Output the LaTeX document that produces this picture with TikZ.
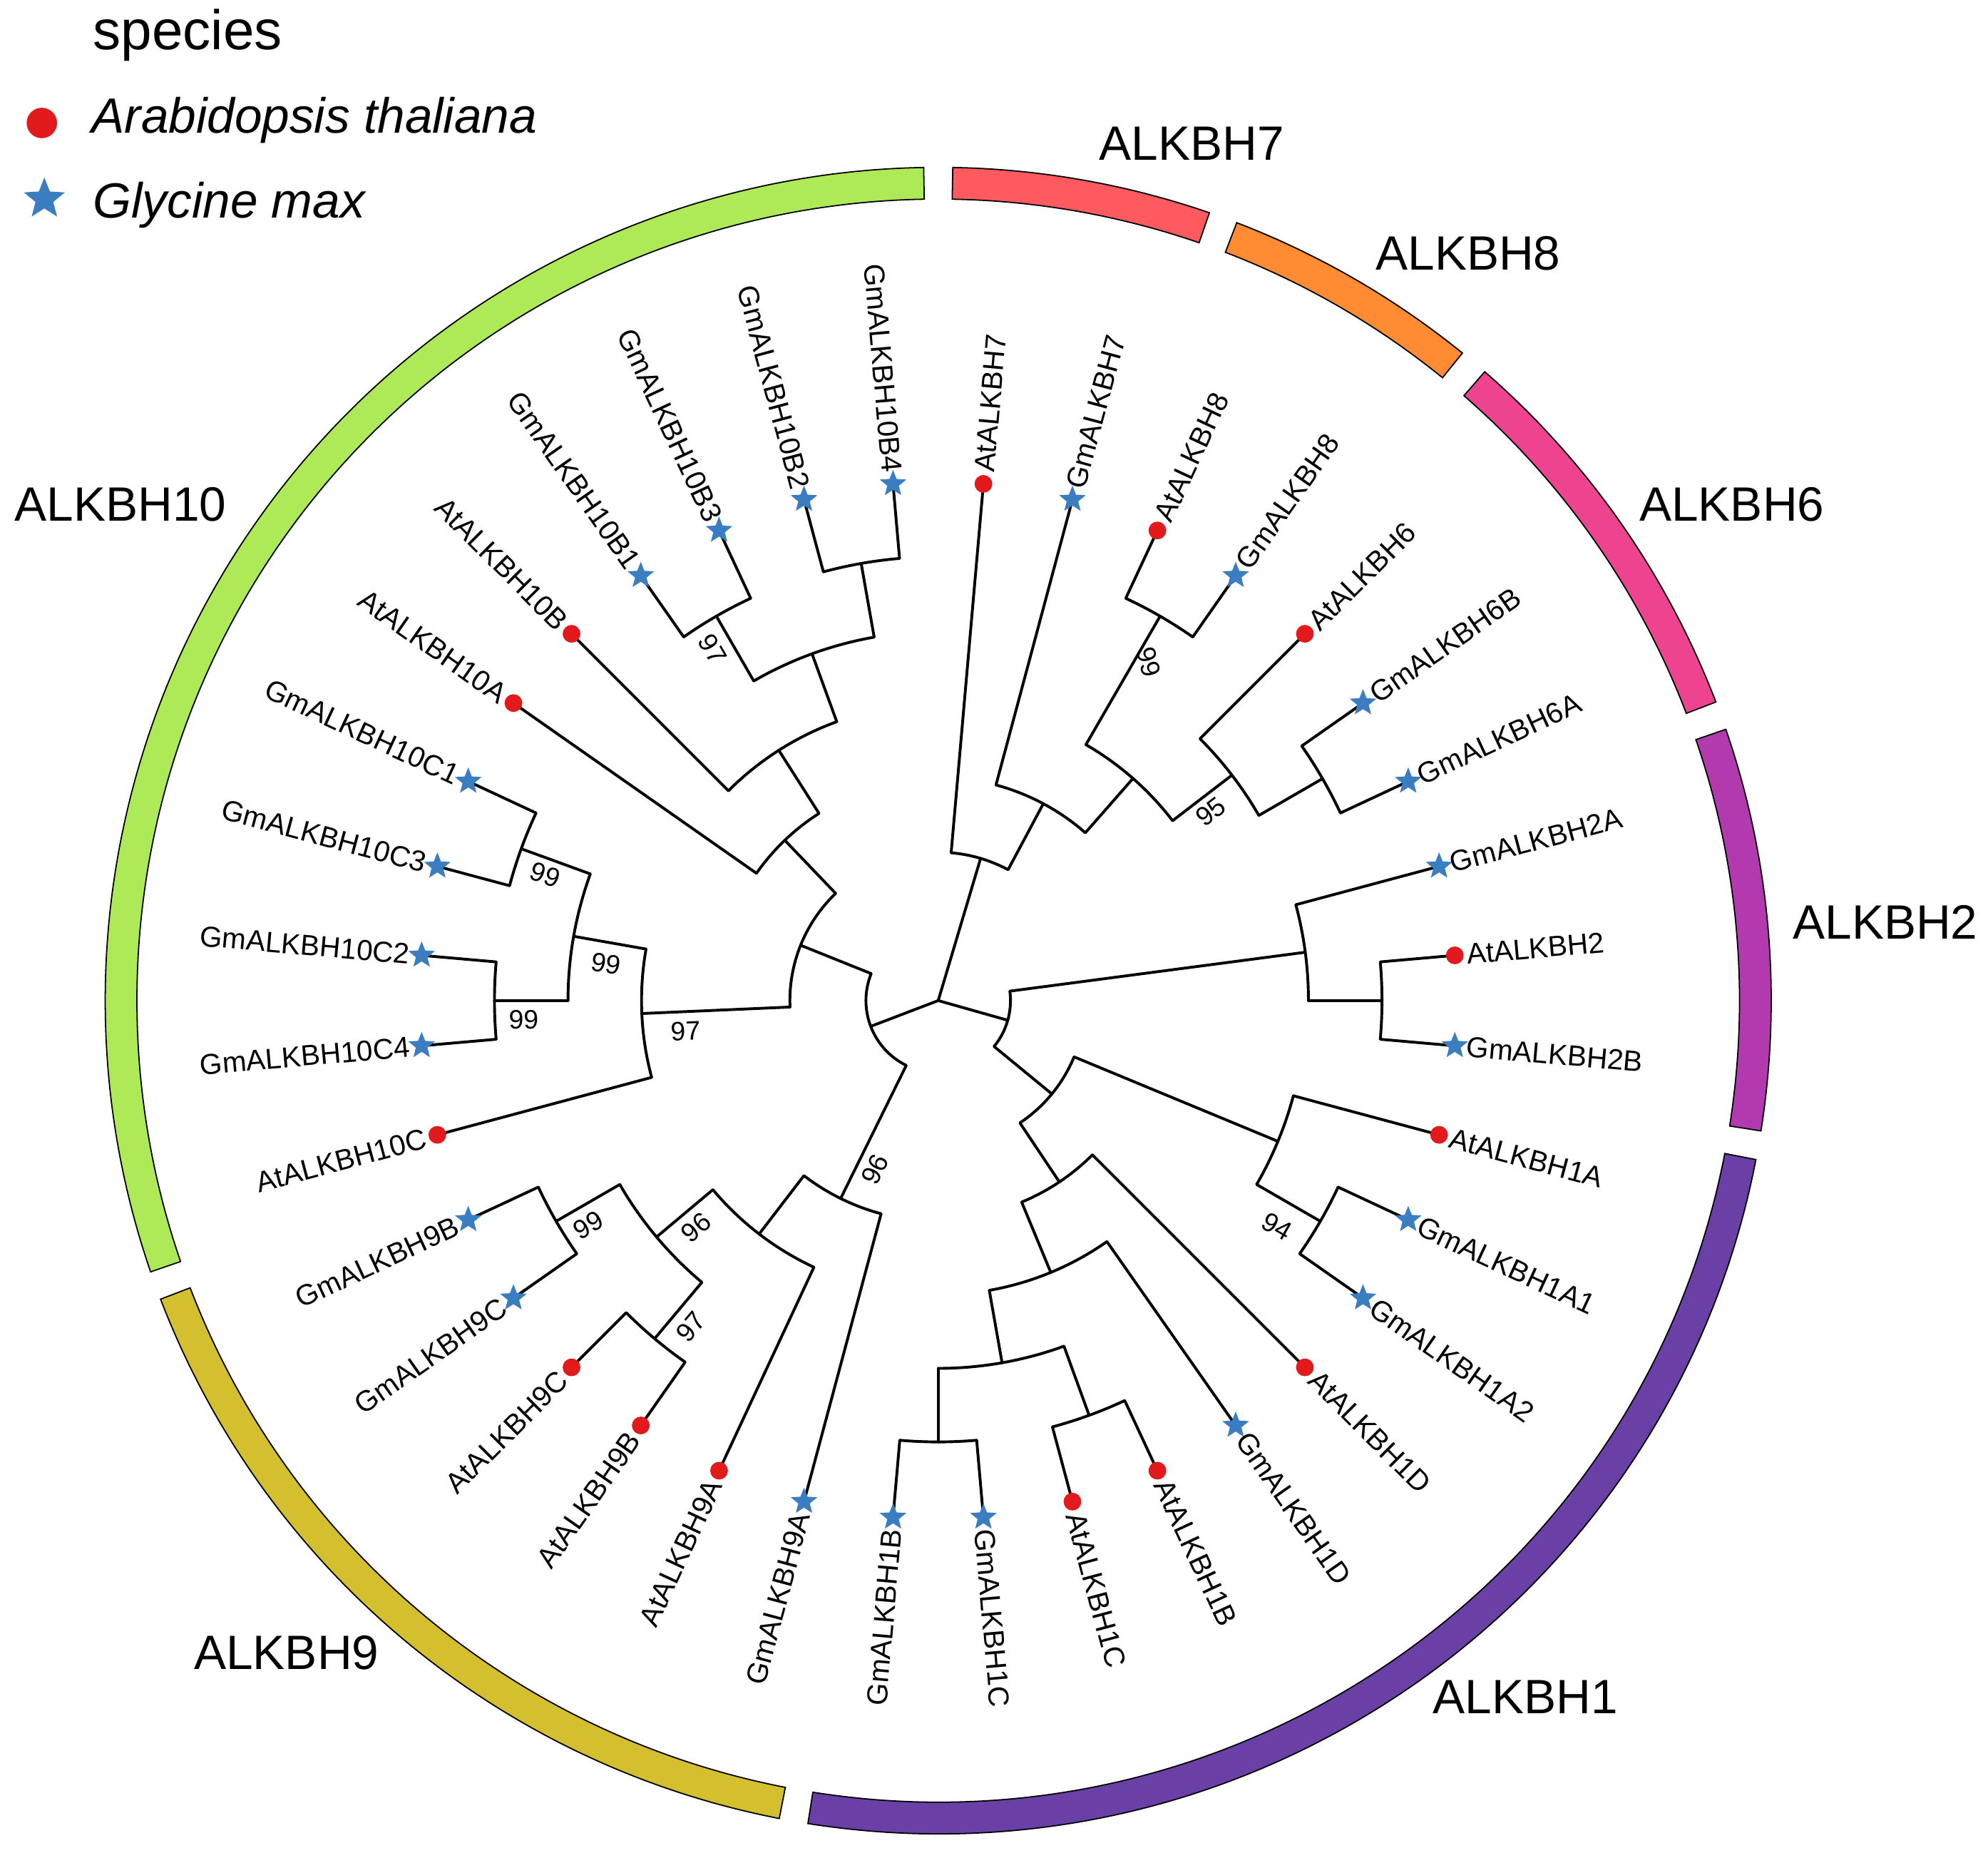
\documentclass[tikz,border=0pt]{standalone}
\usepackage{fontspec}
\setmainfont{Liberation Sans}
\usetikzlibrary{shapes.geometric}
\definecolor{atred}{HTML}{E31A1C}
\definecolor{gmblue}{HTML}{3A7DC0}
\definecolor{cA10}{HTML}{AEEA58}
\definecolor{cA9}{HTML}{D4C02F}
\definecolor{cA1}{HTML}{6A3FA6}
\definecolor{cA2}{HTML}{B23AAE}
\definecolor{cA6}{HTML}{EE4490}
\definecolor{cA8}{HTML}{FF8C33}
\definecolor{cA7}{HTML}{FF5A5F}
\newcommand\Br[3]{\draw[br] (#2:#1) -- (#2:#3);}
\newcommand\Ar[3]{\draw[br] (#2:#1) arc[start angle=#2, end angle=#3, radius=#1*0.5pt];}
\newcommand\Ring[3]{\filldraw[fill=#3, draw=black, line width=0.5pt] (#1:632) arc[start angle=#1, end angle=#2, radius=316pt] -- (#2:657) arc[start angle=#2, end angle=#1, radius=328.5pt] -- cycle;}
\begin{document}
\begin{tikzpicture}[x=0.5pt,y=0.5pt,
  br/.style={line width=1.1pt, line cap=round, line join=round},
  spat/.style={circle, fill=atred, inner sep=0pt, minimum size=7pt},
  spgm/.style={star, star points=5, star point ratio=2.3, fill=gmblue, inner sep=0pt, minimum size=11pt},
  leaf/.style={font=\fontsize{11.4}{13}\selectfont, inner sep=0pt},
  bs/.style={font=\fontsize{10.5}{12}\selectfont, inner sep=0pt},
  clade/.style={font=\fontsize{19}{22}\selectfont, inner sep=0pt}]
\useasboundingbox (0,0) rectangle (1568,1465);
\begin{scope}[shift={(740,676)}]
% rings
\Ring{91}{199}{cA10}
\Ring{201}{259}{cA9}
\Ring{261}{349}{cA1}
\Ring{-9}{19}{cA2}
\Ring{21}{49}{cA6}
\Ring{51}{69}{cA8}
\Ring{71}{89}{cA7}
% root
\Br{0}{73.4}{117} \Br{0}{200.9}{57} \Br{0}{-15.8}{57}
% A clade
\Ar{117}{85}{61.9} \Br{117}{85}{409} \Br{117}{61.9}{176}
\Ar{176}{75}{48.75} \Br{176}{75}{409} \Br{176}{48.75}{233}
\Ar{233}{60}{37.5} \Br{233}{60}{350} \Br{233}{37.5}{292}
\Ar{350}{65}{55} \Br{350}{65}{409} \Br{350}{55}{409}
\Ar{292}{45}{30} \Br{292}{45}{409} \Br{292}{30}{350}
\Ar{350}{35}{25} \Br{350}{35}{409} \Br{350}{25}{409}
% Cn
\Ar{57}{7.5}{-39.4} \Br{57}{7.5}{292} \Br{57}{-39.4}{116}
\Ar{292}{15}{0} \Br{292}{15}{409} \Br{292}{0}{350}
\Ar{350}{5}{-5} \Br{350}{5}{409} \Br{350}{-5}{409}
\Ar{116}{-22.5}{-56.25} \Br{116}{-22.5}{290} \Br{116}{-56.25}{172}
\Ar{290}{-15}{-30} \Br{290}{-15}{409} \Br{290}{-30}{348}
\Ar{348}{-25}{-35} \Br{348}{-25}{409} \Br{348}{-35}{409}
\Ar{172}{-45}{-67.5} \Br{172}{-45}{409} \Br{172}{-67.5}{232}
\Ar{232}{-55}{-80} \Br{232}{-55}{409} \Br{232}{-80}{290}
\Ar{290}{-70}{-90} \Br{290}{-70}{348} \Br{290}{-90}{348}
\Ar{348}{-65}{-75} \Br{348}{-65}{409} \Br{348}{-75}{409}
\Ar{348}{-85}{-95} \Br{348}{-85}{409} \Br{348}{-95}{409}
% X2
\Ar{57}{158.1}{243.75} \Br{57}{158.1}{117} \Br{57}{243.75}{174}
\Ar{117}{133.75}{182.5} \Br{117}{133.75}{175} \Br{117}{182.5}{234}
\Ar{175}{145}{122.5} \Br{175}{145}{409} \Br{175}{122.5}{234}
\Ar{234}{135}{110} \Br{234}{135}{409} \Br{234}{110}{291}
\Ar{291}{120}{100} \Br{291}{120}{350} \Br{291}{100}{350}
\Ar{350}{125}{115} \Br{350}{125}{409} \Br{350}{115}{409}
\Ar{350}{105}{95} \Br{350}{105}{409} \Br{350}{95}{409}
\Ar{234}{170}{195} \Br{234}{170}{292} \Br{234}{195}{409}
\Ar{292}{160}{180} \Br{292}{160}{350} \Br{292}{180}{350}
\Ar{350}{155}{165} \Br{350}{155}{409} \Br{350}{165}{409}
\Ar{350}{175}{185} \Br{350}{175}{409} \Br{350}{185}{409}
\Ar{174}{232.5}{255} \Br{174}{232.5}{232} \Br{174}{255}{409}
\Ar{232}{220}{245} \Br{232}{220}{290} \Br{232}{245}{409}
\Ar{290}{210}{230} \Br{290}{210}{348} \Br{290}{230}{348}
\Ar{348}{205}{215} \Br{348}{205}{409} \Br{348}{215}{409}
\Ar{348}{225}{235} \Br{348}{225}{409} \Br{348}{235}{409}
% leaves right side
\foreach \a/\n/\s in {85/AtALKBH7/at,75/GmALKBH7/gm,65/AtALKBH8/at,55/GmALKBH8/gm,45/AtALKBH6/at,35/GmALKBH6B/gm,25/GmALKBH6A/gm,15/GmALKBH2A/gm,5/AtALKBH2/at,-5/GmALKBH2B/gm,-15/AtALKBH1A/at,-25/GmALKBH1A1/gm,-35/GmALKBH1A2/gm,-45/AtALKBH1D/at,-55/GmALKBH1D/gm,-65/AtALKBH1B/at,-75/AtALKBH1C/at,-85/GmALKBH1C/gm}{
  \node[sp\s] (m\n) at (\a:409) {};
  \node[leaf, anchor=west, rotate=\a] (t\n) at (\a:418) {\n};
}
% leaves left side
\foreach \a/\n/\s in {95/GmALKBH10B4/gm,105/GmALKBH10B2/gm,115/GmALKBH10B3/gm,125/GmALKBH10B1/gm,135/AtALKBH10B/at,145/AtALKBH10A/at,155/GmALKBH10C1/gm,165/GmALKBH10C3/gm,175/GmALKBH10C2/gm,185/GmALKBH10C4/gm,195/AtALKBH10C/at,205/GmALKBH9B/gm,215/GmALKBH9C/gm,225/AtALKBH9C/at,235/AtALKBH9B/at,245/AtALKBH9A/at,255/GmALKBH9A/gm,265/GmALKBH1B/gm}{
  \node[sp\s] (m\n) at (\a:409) {};
  \node[leaf, anchor=east, rotate=\a-180] (t\n) at (\a:418) {\n};
}
\end{scope}
% bootstrap
\node[bs, rotate=-60] (b1) at (562,953) {97};
\node[bs, rotate=-75] (b2) at (906,943) {99};
\node[bs, rotate=37.5] (b3) at (955,825) {95};
\node[bs, rotate=-20] (b4) at (430,775) {99};
\node[bs, rotate=-10] (b5) at (478,705) {99};
\node[bs] (b6) at (413,661) {99};
\node[bs, rotate=2.5] (b7) at (541,652) {97};
\node[bs, rotate=-30] (b8) at (1007,498) {94};
\node[bs, rotate=63.75] (b9) at (690,543) {96};
\node[bs, rotate=30] (b10) at (464,499) {99};
\node[bs, rotate=40] (b11) at (549,497) {96};
\node[bs, rotate=50] (b12) at (545,419) {97};
% clade labels
\node[clade] (c7) at (940,1352) {ALKBH7};
\node[clade] (c8) at (1158,1265) {ALKBH8};
\node[clade] (c6) at (1366,1067) {ALKBH6};
\node[clade] (c2) at (1487,738) {ALKBH2};
\node[clade] (c1) at (1203,127) {ALKBH1};
\node[clade] (c9) at (226,162) {ALKBH9};
\node[clade] (c10) at (95,1067) {ALKBH10};
% legend
\node[font=\fontsize{22}{26}\selectfont, inner sep=0pt] (lt) at (148,1437) {species};
\node[circle, fill=atred, inner sep=0pt, minimum size=12pt] (ld) at (33,1368) {};
\node[font=\fontsize{19.5}{23}\selectfont\itshape, anchor=west, inner sep=0pt] (la) at (72,1370) {Arabidopsis thaliana};
\node[star, star points=5, star point ratio=2.3, fill=gmblue, inner sep=0pt, minimum size=17pt] (ls) at (35,1308) {};
\node[font=\fontsize{19.5}{23}\selectfont\itshape, anchor=west, inner sep=0pt] (lg) at (73,1303) {Glycine max};
\end{tikzpicture}
\end{document}
